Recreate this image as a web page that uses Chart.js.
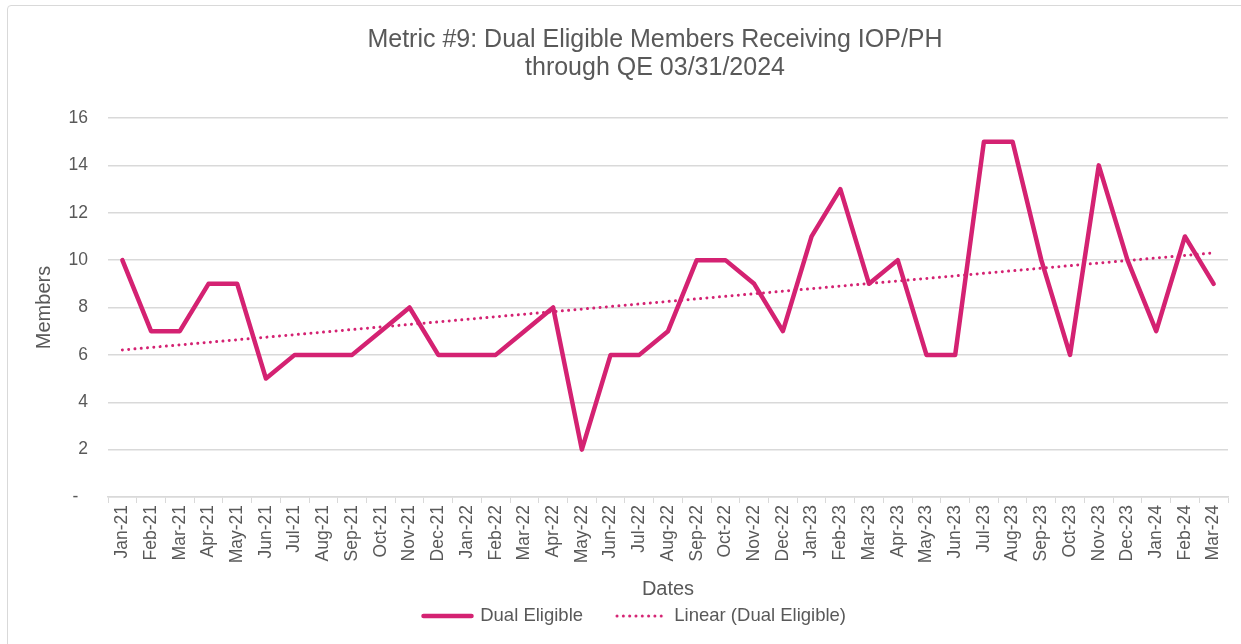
<!DOCTYPE html>
<html>
<head>
<meta charset="utf-8">
<script src="https://cdn.jsdelivr.net/npm/chart.js@4.4.1/dist/chart.umd.min.js"></script>
<style>
  html, body { margin: 0; padding: 0; background: #ffffff; overflow: hidden; }
  #wrap { position: relative; width: 1241px; height: 644px; }
  #frame { position: absolute; left: 7px; top: 5px; width: 1250px; height: 660px; border: 1px solid #D9D9D9; border-radius: 4px; box-sizing: border-box; }
  canvas { position: absolute; left: 0; top: 0; }
</style>
</head>
<body>
<div id="wrap">
  <div id="frame"></div>
  <canvas id="c" width="1241" height="644"></canvas>
</div>
<script>
const categories = ["Jan-21","Feb-21","Mar-21","Apr-21","May-21","Jun-21","Jul-21","Aug-21","Sep-21","Oct-21","Nov-21","Dec-21",
  "Jan-22","Feb-22","Mar-22","Apr-22","May-22","Jun-22","Jul-22","Aug-22","Sep-22","Oct-22","Nov-22","Dec-22",
  "Jan-23","Feb-23","Mar-23","Apr-23","May-23","Jun-23","Jul-23","Aug-23","Sep-23","Oct-23","Nov-23","Dec-23",
  "Jan-24","Feb-24","Mar-24"];
const dualEligible = [10,7,7,9,9,5,6,6,6,7,8,6,
  6,6,7,8,2,6,6,7,10,10,9,7,
  11,13,9,10,6,6,15,15,10,6,14,10,
  7,11,9];
const yTicks = [0,2,4,6,8,10,12,14,16];
const yTickLabels = ["-  ","2","4","6","8","10","12","14","16"];
const titleLines = ["Metric #9: Dual Eligible Members Receiving IOP/PH", "through QE 03/31/2024"];

// Excel-style linear trendline (least squares fit of the series)
function linearTrend(ys) {
  const n = ys.length;
  let sx = 0, sy = 0, sxy = 0, sxx = 0;
  for (let i = 0; i < n; i++) { const x = i + 1; sx += x; sy += ys[i]; sxy += x * ys[i]; sxx += x * x; }
  const b = (n * sxy - sx * sy) / (n * sxx - sx * sx);
  const a = (sy - b * sx) / n;
  return ys.map((_, i) => a + b * (i + 1));
}
const trend = linearTrend(dualEligible);

const pink = '#D42272';
const textCol = '#595959';
const gridCol = '#D9D9D9';
const FONT = 'Arial, "Liberation Sans", sans-serif';

// legend swatches (line samples)
function swatch(width, dotted) {
  const c = document.createElement('canvas');
  c.width = 53; c.height = 8;
  const g = c.getContext('2d');
  g.strokeStyle = pink;
  g.lineCap = 'round';
  g.lineWidth = width;
  if (dotted) g.setLineDash([0.01, 6.3]);
  g.beginPath();
  g.moveTo(dotted ? 2 : 2.5, 4);
  g.lineTo(dotted ? 51 : 50.5, 4);
  g.stroke();
  return c;
}
const solidSwatch = swatch(4.5, false);
const dotSwatch = swatch(3, true);

const titlePlugin = {
  id: 'excelTitle',
  afterDraw(chart) {
    const ctx = chart.ctx;
    ctx.save();
    ctx.fillStyle = textCol;
    ctx.font = '25px ' + FONT;
    ctx.textAlign = 'center';
    ctx.textBaseline = 'middle';
    ctx.fillText(titleLines[0], 655, 40);
    ctx.fillText(titleLines[1], 655, 68);
    ctx.restore();
  }
};

new Chart(document.getElementById('c'), {
  type: 'line',
  data: {
    labels: categories,
    datasets: [
      {
        label: 'Dual Eligible',
        data: dualEligible,
        borderColor: pink,
        backgroundColor: pink,
        borderWidth: 4.5,
        pointRadius: 0,
        tension: 0,
        borderJoinStyle: 'round',
        borderCapStyle: 'round',
        pointStyle: solidSwatch
      },
      {
        label: 'Linear (Dual Eligible)',
        data: trend,
        borderColor: pink,
        backgroundColor: pink,
        borderWidth: 3,
        borderDash: [0.01, 6.3],
        borderCapStyle: 'round',
        pointRadius: 0,
        tension: 0,
        pointStyle: dotSwatch
      }
    ]
  },
  plugins: [titlePlugin],
  options: {
    responsive: false,
    animation: false,
    devicePixelRatio: 1,
    layout: { padding: { left: 42, right: 13, top: 118, bottom: 8.75 } },
    plugins: {
      title: { display: false },
      legend: {
        display: true,
        position: 'bottom',
        labels: {
          color: textCol,
          font: { family: FONT, size: 18.5 },
          usePointStyle: true,
          pointStyleWidth: 47,
          boxHeight: 10,
          padding: 35
        }
      },
      tooltip: { enabled: false }
    },
    scales: {
      x: {
        type: 'category',
        offset: true,
        afterFit: (scale) => { scale.height = 74.75; },
        grid: {
          display: true,
          drawOnChartArea: false,
          drawTicks: true,
          tickLength: 6,
          offset: true,
          color: gridCol,
          lineWidth: 1
        },
        border: { display: true, color: gridCol, width: 1.5 },
        ticks: {
          color: textCol,
          font: { family: FONT, size: 17.5 },
          minRotation: 90,
          maxRotation: 90,
          autoSkip: false,
          padding: 2
        },
        title: {
          display: true,
          text: 'Dates',
          color: textCol,
          font: { family: FONT, size: 20 },
          padding: { top: 0, bottom: -29.25 }
        }
      },
      y: {
        min: 0,
        max: 16,
        afterBuildTicks: (scale) => { scale.ticks = yTicks.map(v => ({ value: v })); },
        afterFit: (scale) => { scale.width = 66; },
        grid: {
          color: gridCol,
          lineWidth: 1.5,
          drawTicks: false
        },
        border: { display: false },
        ticks: {
          color: textCol,
          font: { family: FONT, size: 17.5 },
          padding: 20,
          callback: function(value) {
            const i = yTicks.indexOf(value);
            return i >= 0 ? yTickLabels[i] : '';
          }
        },
        title: {
          display: true,
          text: 'Members',
          color: textCol,
          font: { family: FONT, size: 20 },
          padding: { top: -10, bottom: 0 }
        }
      }
    }
  }
});
</script>
</body>
</html>
